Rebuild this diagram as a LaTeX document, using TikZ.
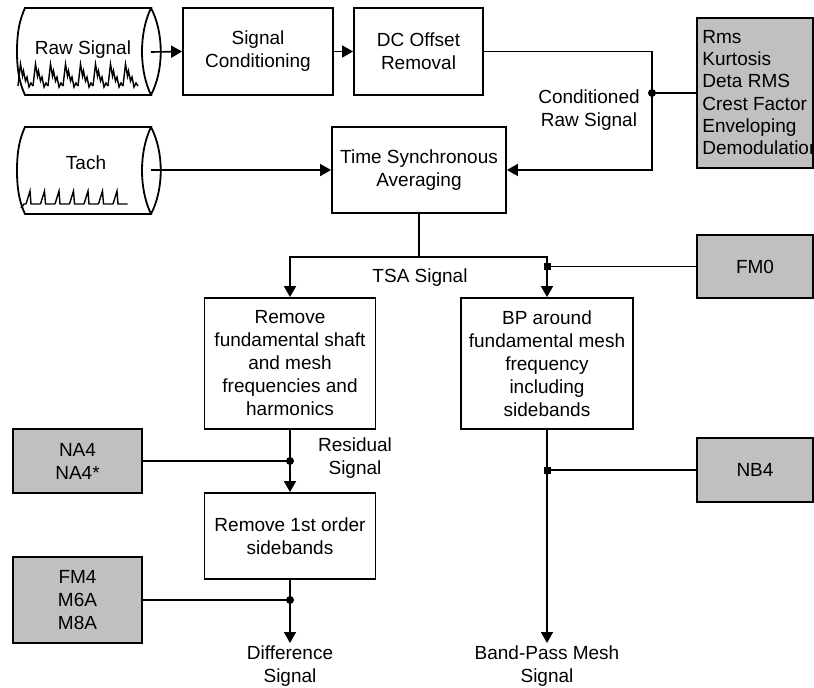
\documentclass[tikz,border=0pt]{standalone}
\usepackage{fontspec}
\setmainfont{Liberation Sans}
\usetikzlibrary{arrows.meta}
\definecolor{metricgray}{RGB}{192,192,192}

\begin{document}
\begin{tikzpicture}[x=0.5pt, y=-0.5pt,
  font=\fontsize{9.5}{11.5}\selectfont,
  procbox/.style={draw, line width=0.9pt, align=center, inner sep=2pt},
  metricbox/.style={procbox, fill=metricgray},
  sigtext/.style={align=center, inner sep=1pt},
  flow/.style={line width=0.8pt},
  flowarr/.style={flow, -{Triangle[length=5.5pt,width=6pt]}}]
\useasboundingbox (0,0) rectangle (814,687);

\foreach \yo in {0,119} {
  \draw[line width=0.9pt] (25,{8+\yo}) -- (151,{8+\yo})
    .. controls (139,{33+\yo}) and (139,{70+\yo}) .. (151,{95+\yo})
    -- (25,{95+\yo})
    .. controls (20,{84+\yo}) and (17,{72+\yo}) .. (17,{51.5+\yo})
    .. controls (17,{31+\yo}) and (20,{19+\yo}) .. cycle;
  \draw[line width=0.9pt] (151,{8+\yo}) .. controls (164,{33+\yo}) and (164,{70+\yo}) .. (151,{95+\yo});
}

\foreach \i in {0,...,7} {
  \draw[line width=0.7pt] ({18+15*\i},86) -- ({20.5+15*\i},64) -- ({22.5+15*\i},76) -- ({23.5+15*\i},71)
    -- ({25.5+15*\i},81) -- ({27+15*\i},77) -- ({29+15*\i},87) -- ({31+15*\i},83) -- ({33+15*\i},86);
}
\draw[line width=0.7pt] (21,208) -- (24,204) -- (26,204);
\foreach \i in {0,...,6} {
  \draw[line width=0.7pt] ({26+14.5*\i},204) -- ({30+14.5*\i},191) -- ({31+14.5*\i},204) -- ({40.5+14.5*\i},204);
}

\node (raw) at (83,50) {Raw Signal};
\node (tach) at (86,163) {Tach};
\coordinate (rawout) at (151,52);
\coordinate (tachout) at (151,170);

\node[procbox, minimum width=75pt, minimum height=43.5pt] (cond) at (258,51.5) {Signal\\Conditioning};
\node[procbox, minimum width=64.5pt, minimum height=43.5pt] (dco) at (418.5,51.5) {DC Offset\\Removal};
\node[metricbox, minimum width=58pt, minimum height=75pt] (rms) at (755,93) {};
\node[anchor=west, align=left, inner sep=0pt, font=\fontsize{9.5}{11.1}\selectfont] (rmstxt) at (702,92.5)
  {Rms\\Kurtosis\\Deta RMS\\Crest Factor\\Enveloping\\Demodulation};
\node[procbox, minimum width=87pt, minimum height=43pt] (tsa) at (419,170) {Time Synchronous\\Averaging};
\node[metricbox, minimum width=58pt, minimum height=31.5pt] (fm0) at (755,266.5) {FM0};
\node[procbox, minimum width=85.5pt, minimum height=65.5pt] (harm) at (290,363.5)
  {Remove\\fundamental shaft\\and mesh\\frequencies and\\harmonics};
\node[procbox, minimum width=86pt, minimum height=65.5pt] (bp) at (547,363.5)
  {BP around\\fundamental mesh\\frequency\\including\\sidebands};
\node[metricbox, minimum width=64.5pt, minimum height=32pt] (na4) at (77.5,461) {NA4\\NA4*};
\node[metricbox, minimum width=58pt, minimum height=32pt] (nb4) at (755,470) {NB4};
\node[procbox, minimum width=85.5pt, minimum height=43pt] (side) at (290,536) {Remove 1st order\\sidebands};
\node[metricbox, minimum width=64.5pt, minimum height=43pt] (fm4) at (77.5,600) {FM4\\M6A\\M8A};

\node[sigtext, anchor=north] (diff) at (290,643) {Difference\\Signal};
\node[sigtext, anchor=north] (bpm) at (547,643) {Band-Pass Mesh\\Signal};
\node[sigtext] (condsig) at (589,110) {Conditioned\\Raw Signal};
\node[sigtext] (tsasig) at (420,278) {TSA Signal};
\node[sigtext] (ressig) at (355,458) {Residual\\Signal};

\draw[flowarr] (rawout) -- (cond.west);
\draw[flowarr] (cond.east) -- (dco.west);
\coordinate (cj) at (652,93);
\draw[flow] (dco.east) -| (cj);
\draw[flowarr] (cj) |- (tsa.east);
\draw[flow] (rms.west) -- (cj);
\fill (cj) circle[radius=4];
\draw[flowarr] (tachout) -- (tsa.west);

\coordinate (tsj) at (419,257);
\draw[flow] (tsa.south) -- (tsj);
\draw[flowarr] (tsj) -| (harm.north);
\draw[flowarr] (tsj) -| (bp.north);
\coordinate (fmj) at (bp.north |- fm0.west);
\draw[flow] (fm0.west) -- (fmj);
\fill[shift={(fmj)}] (-3.5,-3.5) rectangle (3.5,3.5);

\draw[flowarr] (harm.south) -- (side.north);
\coordinate (naj) at (harm.south |- na4.east);
\draw[flow] (na4.east) -- (naj);
\fill (naj) circle[radius=4];

\draw[flowarr] (side.south) -- (diff.north);
\coordinate (fmj4) at (side.south |- fm4.east);
\draw[flow] (fm4.east) -- (fmj4);
\fill (fmj4) circle[radius=4];

\draw[flowarr] (bp.south) -- (bpm.north);
\coordinate (nbj) at (bp.south |- nb4.west);
\draw[flow] (nb4.west) -- (nbj);
\fill[shift={(nbj)}] (-3.5,-3.5) rectangle (3.5,3.5);
\end{tikzpicture}
\end{document}
